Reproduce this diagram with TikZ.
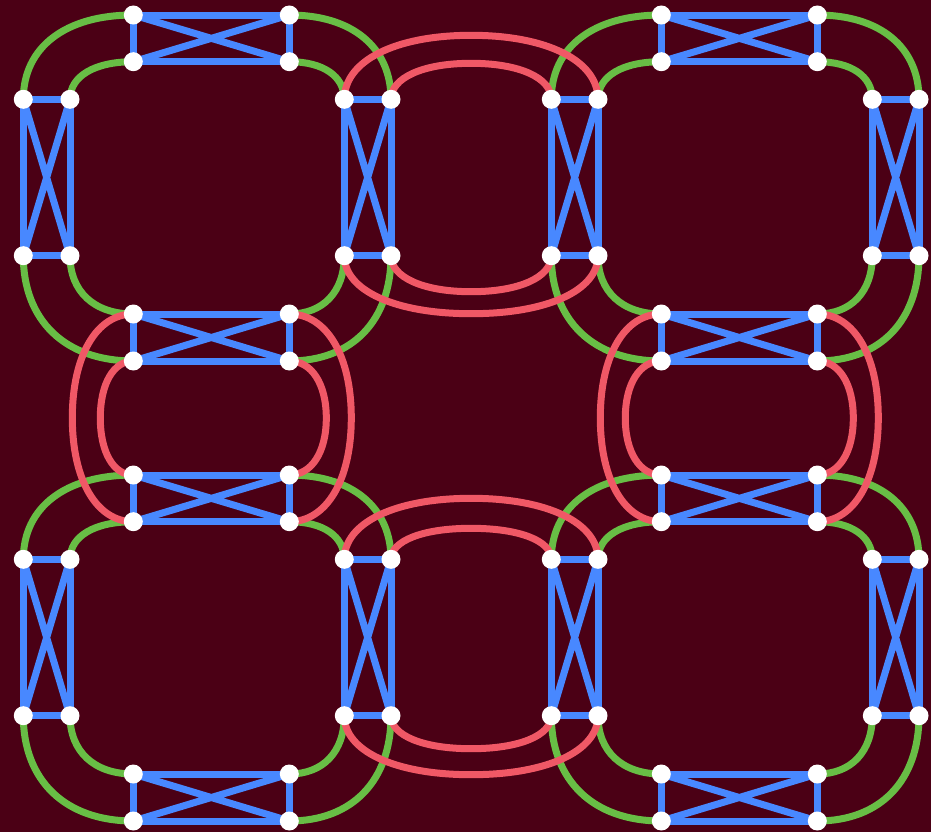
\documentclass[tikz,border=0pt]{standalone}
\usetikzlibrary{calc}
\pgfdeclarelayer{bg}
\pgfdeclarelayer{edges}
\pgfsetlayers{bg,edges,main}
\definecolor{bgc}{HTML}{4B0015}
\definecolor{kblue}{HTML}{4888FF}
\definecolor{kgreen}{HTML}{68BE45}
\definecolor{kred}{HTML}{F05866}
\tikzset{
  dot/.style={circle,fill=white,minimum size=19bp,inner sep=0pt},
  blueline/.style={draw=kblue,line width=7bp},
  greenline/.style={draw=kgreen,line width=7bp},
  redline/.style={draw=kred,line width=7bp},
}
% #1 left node, #2 right node, #3 signed bulge (vertical), #4 half-width
\newcommand\bulgeV[4]{%
  \draw[redline] (#1.center) .. controls +(0,{0.6*(#3)}) and +({-0.6*(#4)},0) ..
    ($(#1)!0.5!(#2)+(0,#3)$) .. controls +({0.6*(#4)},0) and +(0,{0.6*(#3)}) .. (#2.center);}
% #1 top node, #2 bottom node, #3 signed bulge (horizontal), #4 half-span
\newcommand\bulgeH[4]{%
  \draw[redline] (#1.center) .. controls +({0.6*(#3)},0) and +(0,{-0.6*(#4)}) ..
    ($(#1)!0.5!(#2)+(#3,0)$) .. controls +(0,{0.6*(#4)}) and +({0.6*(#3)},0) .. (#2.center);}
\begin{document}
\begin{tikzpicture}[x=1bp,y=-1bp]
\begin{pgfonlayer}{bg}
\fill[bgc] (0,0) rectangle (931,832);
\end{pgfonlayer}
\useasboundingbox (0,0) rectangle (931,832);
\foreach \q/\dx/\dy in {A/0/0,B/528/0,C/0/460,D/528/460}{
  \begin{scope}[shift={(\dx,\dy)}]
    \node[dot] (\q-a1) at (133.3,15) {};
    \node[dot] (\q-a2) at (289.3,15) {};
    \node[dot] (\q-a3) at (133.3,61.7) {};
    \node[dot] (\q-a4) at (289.3,61.7) {};
    \node[dot] (\q-b1) at (23.3,99.3) {};
    \node[dot] (\q-b2) at (70,99.3) {};
    \node[dot] (\q-b3) at (23.3,255.7) {};
    \node[dot] (\q-b4) at (70,255.7) {};
    \node[dot] (\q-c1) at (344.3,99.3) {};
    \node[dot] (\q-c2) at (391,99.3) {};
    \node[dot] (\q-c3) at (344.3,255.7) {};
    \node[dot] (\q-c4) at (391,255.7) {};
    \node[dot] (\q-d1) at (133.3,314) {};
    \node[dot] (\q-d2) at (289.3,314) {};
    \node[dot] (\q-d3) at (133.3,361) {};
    \node[dot] (\q-d4) at (289.3,361) {};
  \end{scope}
  \begin{pgfonlayer}{edges}
    \foreach \k in {a,b,c,d}{
      \draw[blueline] (\q-\k1.center) -- (\q-\k2.center) -- (\q-\k4.center) -- (\q-\k3.center) -- cycle;
      \draw[blueline] (\q-\k1.center) -- (\q-\k4.center) (\q-\k2.center) -- (\q-\k3.center);
    }
    \draw[greenline] (\q-a1.center) .. controls +(-68,0) and +(0,-52) .. (\q-b1.center);
    \draw[greenline] (\q-a3.center) .. controls +(-39,0) and +(0,-23) .. (\q-b2.center);
    \draw[greenline] (\q-a2.center) .. controls +(63,0) and +(0,-52) .. (\q-c2.center);
    \draw[greenline] (\q-a4.center) .. controls +(34,0) and +(0,-23) .. (\q-c1.center);
    \draw[greenline] (\q-b3.center) .. controls +(0,65) and +(-68,0) .. (\q-d3.center);
    \draw[greenline] (\q-b4.center) .. controls +(0,36) and +(-39,0) .. (\q-d1.center);
    \draw[greenline] (\q-c4.center) .. controls +(0,65) and +(63,0) .. (\q-d4.center);
    \draw[greenline] (\q-c3.center) .. controls +(0,36) and +(34,0) .. (\q-d2.center);
  \end{pgfonlayer}
}
\begin{pgfonlayer}{edges}
  % top middle
  \bulgeV{A-c1}{B-b2}{-64}{126.85}
  \bulgeV{A-c2}{B-b1}{-36}{80.15}
  \bulgeV{A-c3}{B-b4}{58}{126.85}
  \bulgeV{A-c4}{B-b3}{36}{80.15}
  % bottom middle
  \bulgeV{C-c1}{D-b2}{-61}{126.85}
  \bulgeV{C-c2}{D-b1}{-31}{80.15}
  \bulgeV{C-c3}{D-b4}{59}{126.85}
  \bulgeV{C-c4}{D-b3}{33}{80.15}
  % left middle
  \bulgeH{A-d1}{C-a3}{-61}{103.85}
  \bulgeH{A-d3}{C-a1}{-33}{57}
  \bulgeH{A-d2}{C-a4}{62}{103.85}
  \bulgeH{A-d4}{C-a2}{37}{57}
  % right middle
  \bulgeH{B-d1}{D-a3}{-61}{103.85}
  \bulgeH{B-d3}{D-a1}{-36}{57}
  \bulgeH{B-d2}{D-a4}{61}{103.85}
  \bulgeH{B-d4}{D-a2}{36}{57}
\end{pgfonlayer}
\end{tikzpicture}
\end{document}
